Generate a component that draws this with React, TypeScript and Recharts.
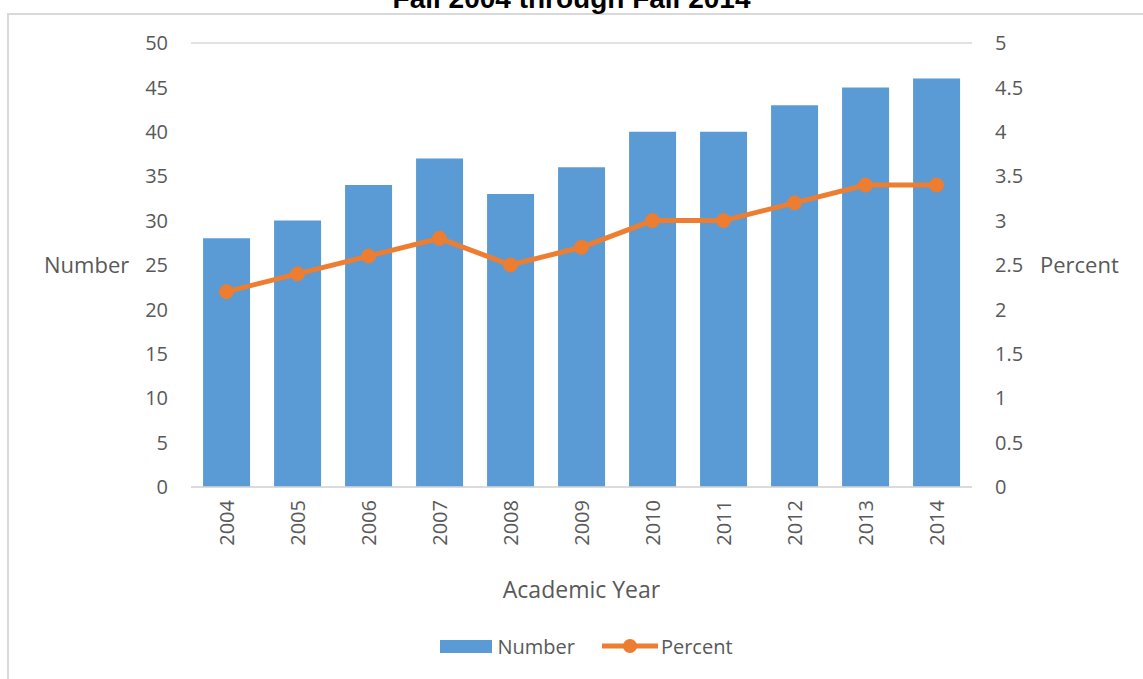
import React from 'react';
import { ComposedChart, Bar, Line, XAxis, YAxis, CartesianGrid } from 'recharts';

const years = ['2004', '2005', '2006', '2007', '2008', '2009', '2010', '2011', '2012', '2013', '2014'];
const numberValues = [28, 30, 34, 37, 33, 36, 40, 40, 43, 45, 46];
const percentValues = [2.2, 2.4, 2.6, 2.8, 2.5, 2.7, 3.0, 3.0, 3.2, 3.4, 3.4];
const leftTicks = [0, 5, 10, 15, 20, 25, 30, 35, 40, 45, 50];
const rightTicks = [0, 0.5, 1, 1.5, 2, 2.5, 3, 3.5, 4, 4.5, 5];
const seriesNames = ['Number', 'Percent'];
const titleText = 'Fall 2004 through Fall 2014';

const data = years.map((y, i) => ({ year: y, Number: numberValues[i], Percent: percentValues[i] }));

const FONT = '"Open Sans", sans-serif';
const TXT = '#595959';
const BLUE = '#5B9BD5';
const ORANGE = '#ED7D31';

const XTick = (props: any) => {
  const { x, y, payload } = props;
  return (
    <text
      x={x}
      y={y}
      transform={`rotate(-90 ${x} ${y})`}
      textAnchor="end"
      dominantBaseline="central"
      fill={TXT}
      fontSize={20}
      fontFamily={FONT}
    >
      {payload.value}
    </text>
  );
};

export default function App() {
  return (
    <div style={{ position: 'absolute', left: 0, top: 0, width: 1143, height: 679, background: '#fff', overflow: 'hidden' }}>
      <div
        style={{
          position: 'absolute',
          left: 7,
          top: 13,
          width: 1200,
          height: 800,
          border: '2px solid #d9d9d9',
          boxSizing: 'border-box',
        }}
      />
      <div
        style={{
          position: 'absolute',
          left: 0,
          width: 1143,
          top: -18,
          textAlign: 'center',
          fontFamily: '"Liberation Sans", Arial, sans-serif',
          fontWeight: 'bold',
          fontSize: 28,
          lineHeight: '34px',
          color: '#000',
          whiteSpace: 'nowrap',
        }}
      >
        {titleText}
      </div>
      <div style={{ position: 'absolute', left: 0, top: 0 }}>
        <ComposedChart width={1143} height={679} data={data} margin={{ top: 43, right: 0, bottom: 0, left: 0 }} barCategoryGap="17%">
          <CartesianGrid vertical={false} stroke="#d9d9d9" strokeWidth={1.5} />
          <XAxis
            dataKey="year"
            height={192}
            axisLine={{ stroke: '#d9d9d9', strokeWidth: 1.5 }}
            tickLine={false}
            tickSize={0}
            tickMargin={13}
            tick={<XTick />}
            interval={0}
            label={{ value: 'Academic Year', position: 'insideTop', offset: 95, fill: TXT, fontSize: 23, fontFamily: FONT }}
          />
          <YAxis
            yAxisId="left"
            width={191}
            domain={[0, 50]}
            ticks={leftTicks}
            axisLine={false}
            tickLine={false}
            tickSize={0}
            tickMargin={23}
            tick={{ fill: TXT, fontSize: 20, fontFamily: FONT }}
            label={{ value: 'Number', position: 'insideLeft', offset: 44, fill: TXT, fontSize: 22, fontFamily: FONT }}
          />
          <YAxis
            yAxisId="right"
            orientation="right"
            width={171}
            domain={[0, 5]}
            ticks={rightTicks}
            axisLine={false}
            tickLine={false}
            tickSize={0}
            tickMargin={23}
            tick={{ fill: TXT, fontSize: 20, fontFamily: FONT, textAnchor: 'start' }}
            label={{ value: 'Percent', position: 'insideLeft', offset: 68, fill: TXT, fontSize: 22, fontFamily: FONT }}
          />
          <Bar yAxisId="left" dataKey="Number" fill={BLUE} isAnimationActive={false} />
          <Line
            yAxisId="right"
            dataKey="Percent"
            stroke={ORANGE}
            strokeWidth={5}
            dot={{ r: 7, fill: ORANGE, stroke: ORANGE, strokeWidth: 1 }}
            activeDot={false}
            isAnimationActive={false}
          />
        </ComposedChart>
      </div>
      <div
        style={{
          position: 'absolute',
          top: 634,
          left: 15,
          width: 1143,
          display: 'flex',
          justifyContent: 'center',
          alignItems: 'center',
          fontFamily: FONT,
          fontSize: 20,
          color: TXT,
          height: 24,
        }}
      >
        <div style={{ display: 'flex', alignItems: 'center', marginRight: 26 }}>
          <div style={{ width: 52, height: 13, background: BLUE, marginRight: 5 }} />
          <span>{seriesNames[0]}</span>
        </div>
        <div style={{ display: 'flex', alignItems: 'center' }}>
          <svg width={58} height={16} style={{ marginRight: 2 }}>
            <line x1={1} y1={8} x2={57} y2={8} stroke={ORANGE} strokeWidth={5} />
            <circle cx={29} cy={8} r={7} fill={ORANGE} />
          </svg>
          <span>{seriesNames[1]}</span>
        </div>
      </div>
    </div>
  );
}
